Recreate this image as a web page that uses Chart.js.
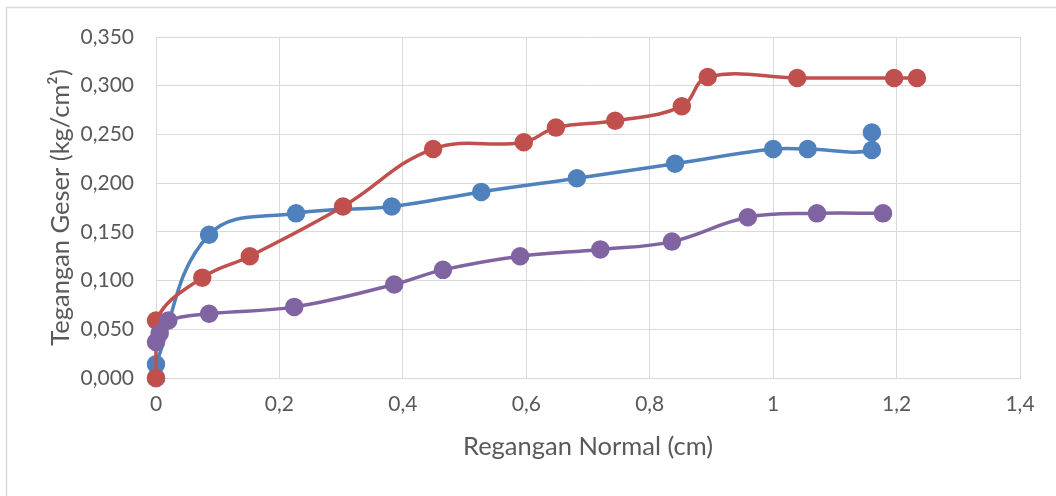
<!DOCTYPE html>
<html>
<head>
<meta charset="utf-8">
<script src="https://cdn.jsdelivr.net/npm/chart.js@4.4.1/dist/chart.umd.min.js"></script>
<style>
  html, body { margin: 0; padding: 0; background: #ffffff; }
  #wrap { position: relative; width: 1056px; height: 496px; }
  canvas { display: block; }
</style>
</head>
<body>
<div id="wrap"><canvas id="chart" width="1056" height="496"></canvas></div>
<script>
// Regangan normal (cm) vs tegangan geser (kg/cm²) for three test series
const blueX   = [0, 0, 0.086, 0.227, 0.382, 0.527, 0.682, 0.841, 1.000, 1.056, 1.160, 1.160];
const blueY   = [0, 0.014, 0.147, 0.169, 0.176, 0.191, 0.205, 0.220, 0.235, 0.235, 0.234, 0.252];

const redX    = [0, 0, 0.075, 0.152, 0.303, 0.449, 0.596, 0.648, 0.744, 0.852, 0.894, 1.039, 1.196, 1.233];
const redY    = [0, 0.059, 0.103, 0.125, 0.176, 0.235, 0.242, 0.257, 0.264, 0.279, 0.309, 0.308, 0.308, 0.308];

const purpleX = [0, 0.006, 0.020, 0.086, 0.224, 0.386, 0.465, 0.590, 0.720, 0.836, 0.959, 1.071, 1.178];
const purpleY = [0.037, 0.046, 0.059, 0.066, 0.073, 0.096, 0.111, 0.125, 0.132, 0.140, 0.165, 0.169, 0.169];

const xTicks = [0, 0.2, 0.4, 0.6, 0.8, 1, 1.2, 1.4];
const yTicks = [0, 0.05, 0.1, 0.15, 0.2, 0.25, 0.3, 0.35];

const FONT = "Lato, 'Open Sans', 'Liberation Sans', sans-serif";
const TEXT = '#595959';
const GRID = '#d9d9d9';

function pts(xs, ys) { return xs.map((x, i) => ({ x: x, y: ys[i] })); }

function series(xs, ys, color, order) {
  return {
    data: pts(xs, ys),
    showLine: true,
    clip: false,
    borderColor: color,
    backgroundColor: color,
    pointBackgroundColor: color,
    pointBorderColor: color,
    pointRadius: 7.5,
    pointHoverRadius: 7.5,
    borderWidth: 3.5,
    tension: 0.4,
    order: order
  };
}

// light frame around the whole chart
const frame = {
  id: 'frame',
  beforeDraw(chart) {
    const c = chart.ctx;
    c.save();
    c.fillStyle = '#ffffff';
    c.fillRect(0, 0, chart.width, chart.height);
    c.strokeStyle = GRID;
    c.lineWidth = 1.5;
    c.strokeRect(6.5, 7.5, 1070, 520);
    c.restore();
  }
};

new Chart(document.getElementById('chart'), {
  type: 'scatter',
  data: {
    datasets: [
      series(blueX, blueY, '#4f81bd', 2),
      series(redX, redY, '#c0504d', 1),
      series(purpleX, purpleY, '#8064a2', 0)
    ]
  },
  options: {
    responsive: false,
    animation: false,
    events: [],
    layout: { padding: { left: 45, top: 37, right: 36, bottom: 34 } },
    plugins: { legend: { display: false }, tooltip: { enabled: false } },
    scales: {
      x: {
        type: 'linear',
        min: xTicks[0],
        max: xTicks[xTicks.length - 1],
        afterBuildTicks(s) { s.ticks = xTicks.map(v => ({ value: v })); },
        afterFit(s) { s.height = 84; },
        grid: { color: GRID, lineWidth: 1, drawTicks: false },
        border: { display: true, color: GRID, width: 1 },
        ticks: {
          padding: 14,
          color: TEXT,
          font: { family: FONT, size: 21 },
          maxRotation: 0,
          callback: v => String(parseFloat(v.toFixed(1))).replace('.', ',')
        },
        title: {
          display: true,
          text: 'Regangan Normal (cm)',
          color: TEXT,
          font: { family: FONT, size: 25.5 },
          padding: { top: 8, bottom: 0 }
        }
      },
      y: {
        type: 'linear',
        min: yTicks[0],
        max: yTicks[yTicks.length - 1],
        afterBuildTicks(s) { s.ticks = yTicks.map(v => ({ value: v })); },
        afterFit(s) { s.width = 111; },
        grid: { color: GRID, lineWidth: 1, drawTicks: false },
        border: { display: true, color: GRID, width: 1 },
        ticks: {
          padding: 22,
          color: TEXT,
          font: { family: FONT, size: 21 },
          callback: v => v.toFixed(3).replace('.', ',')
        },
        title: {
          display: true,
          text: 'Tegangan Geser (kg/cm²)',
          color: TEXT,
          font: { family: FONT, size: 25.5 },
          padding: { top: 0, bottom: 0 }
        }
      }
    }
  },
  plugins: [frame]
});
</script>
</body>
</html>
